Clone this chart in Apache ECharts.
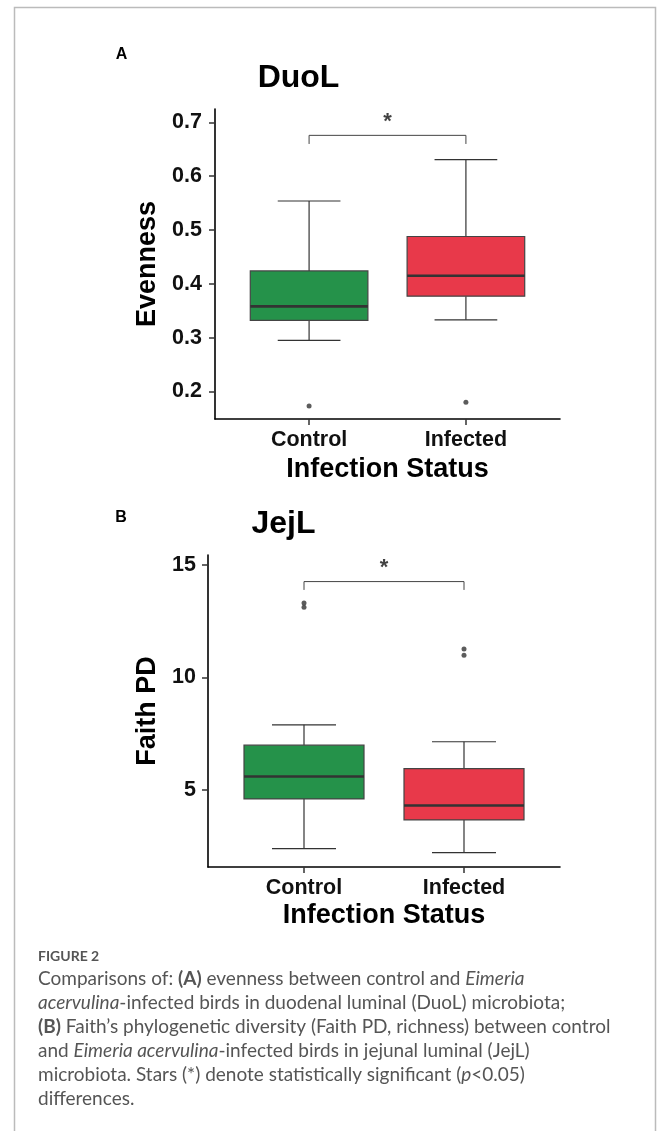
<!DOCTYPE html>
<html>
<head>
<meta charset="utf-8">
<title>Figure 2</title>
<script src="https://cdn.jsdelivr.net/npm/echarts@6/dist/echarts.min.js"></script>
<style>
  html, body { margin: 0; padding: 0; background: #fff; }
  #fig { width: 657px; height: 1131px; }
</style>
</head>
<body>
<div id="fig"></div>
<script>
// categories on the x axis (positions 1 and 2)
const categories = ['Control', 'Infected'];

// panel A, DuoL evenness: [lower whisker, Q1, median, Q3, upper whisker]
const duolBoxes = [
  [0.295, 0.332, 0.358, 0.424, 0.554],
  [0.333, 0.377, 0.415, 0.488, 0.631]
];
const duolOutliers = [[0.173], [0.180]];
const duolTicks = [0.2, 0.3, 0.4, 0.5, 0.6, 0.7];
// significance: [bracket tip, bracket bar, star]
const duolSig = [0.660, 0.676, 0.701];

// panel B, JejL Faith PD
const jejlBoxes = [
  [2.41, 4.61, 5.61, 7.00, 7.90],
  [2.23, 3.68, 4.32, 5.96, 7.15]
];
const jejlOutliers = [[13.12, 13.31], [10.99, 11.27]];
const jejlTicks = [5, 10, 15];
const jejlSig = [13.89, 14.26, 14.87];

const BOX_COLORS = ['#25924A', '#E8394A'];
const BOX_WIDTH = 0.75;
const CAP_WIDTH = 0.4;
const FONT = '"Liberation Sans", Arial, sans-serif';
const CAP_FONT = 'Lato, "Open Sans", sans-serif';

function boxRows(boxes) {
  return boxes.map((b, i) => [i + 1].concat(b));
}
function outlierRows(outs) {
  const rows = [];
  outs.forEach((list, i) => list.forEach(v => rows.push([i + 1, v])));
  return rows;
}
function bracketRows(sig) {
  return [[1, sig[0]], [1, sig[1]], [2, sig[1]], [2, sig[0]]];
}

function renderBox(params, api) {
  const x = api.value(0);
  const pt = k => api.coord([x, api.value(k)]);
  const lo = pt(1), q1 = pt(2), md = pt(3), q3 = pt(4), hi = pt(5);
  const halfBox = api.size([BOX_WIDTH, 0])[0] / 2;
  const halfCap = api.size([CAP_WIDTH, 0])[0] / 2;
  const cx = lo[0];
  const line = (x1, y1, x2, y2, w) => ({
    type: 'line',
    shape: { x1: x1, y1: y1, x2: x2, y2: y2 },
    style: { stroke: '#333', lineWidth: w }
  });
  return {
    type: 'group',
    children: [
      line(cx, hi[1], cx, q3[1], 1.2),
      line(cx, q1[1], cx, lo[1], 1.2),
      line(cx - halfCap, hi[1], cx + halfCap, hi[1], 1.2),
      line(cx - halfCap, lo[1], cx + halfCap, lo[1], 1.2),
      {
        type: 'rect',
        shape: { x: cx - halfBox, y: q3[1], width: 2 * halfBox, height: q1[1] - q3[1] },
        style: { fill: BOX_COLORS[params.dataIndex], stroke: '#444', lineWidth: 1.2 }
      },
      line(cx - halfBox, md[1], cx + halfBox, md[1], 2.6)
    ]
  };
}

function xAxisFor(idx, nameGap) {
  return {
    gridIndex: idx,
    type: 'value',
    min: 0.4,
    max: 2.6,
    name: 'Infection Status',
    nameLocation: 'middle',
    nameGap: nameGap,
    nameTextStyle: { fontFamily: FONT, fontWeight: 'bold', fontSize: 27, color: '#000' },
    axisLine: { lineStyle: { color: '#000', width: 1.6 } },
    axisTick: { customValues: [1, 2], length: 6, lineStyle: { color: '#333', width: 1.5 } },
    axisLabel: {
      customValues: [1, 2],
      formatter: v => categories[Math.round(v) - 1],
      margin: 10,
      fontFamily: FONT, fontWeight: 'bold', fontSize: 21.5, color: '#111'
    },
    splitLine: { show: false }
  };
}

function yAxisFor(idx, name, min, max, ticks, fmt, nameGap, margin) {
  return {
    gridIndex: idx,
    type: 'value',
    min: min,
    max: max,
    name: name,
    nameLocation: 'middle',
    nameRotate: 90,
    nameGap: nameGap,
    nameTextStyle: { fontFamily: FONT, fontWeight: 'bold', fontSize: 27, color: '#000' },
    axisLine: { show: true, lineStyle: { color: '#000', width: 1.6 } },
    axisTick: { show: true, customValues: ticks, length: 6, lineStyle: { color: '#333', width: 1.5 } },
    axisLabel: {
      customValues: ticks,
      formatter: fmt,
      margin: margin,
      fontFamily: FONT, fontWeight: 'bold', fontSize: 21.5, color: '#111'
    },
    splitLine: { show: false }
  };
}

function panelSeries(idx, boxes, outs, sig) {
  return [
    {
      type: 'custom',
      xAxisIndex: idx, yAxisIndex: idx,
      renderItem: renderBox,
      encode: { x: 0, y: [1, 2, 3, 4, 5] },
      data: boxRows(boxes),
      silent: true
    },
    {
      type: 'scatter',
      xAxisIndex: idx, yAxisIndex: idx,
      symbolSize: 5,
      itemStyle: { color: '#333' },
      data: outlierRows(outs),
      silent: true
    },
    {
      type: 'line',
      xAxisIndex: idx, yAxisIndex: idx,
      symbol: 'none',
      lineStyle: { color: '#444', width: 1 },
      data: bracketRows(sig),
      silent: true
    },
    {
      type: 'scatter',
      xAxisIndex: idx, yAxisIndex: idx,
      symbolSize: 1,
      itemStyle: { color: 'rgba(0,0,0,0)' },
      label: {
        show: true, position: 'inside', formatter: '*',
        fontFamily: FONT, fontWeight: 'bold', fontSize: 22, color: '#111'
      },
      data: [[1.5, sig[2]]],
      silent: true
    }
  ];
}

function capText(y, text, size, weight) {
  const base = { fontFamily: CAP_FONT, fontSize: size, fill: '#555', fontWeight: weight || 'normal' };
  return {
    type: 'text',
    left: 38,
    top: y,
    style: Object.assign({
      text: text,
      rich: {
        b: Object.assign({}, base, { fontWeight: 'bold' }),
        i: Object.assign({}, base, { fontStyle: 'italic' })
      }
    }, base)
  };
}

function label(x, y, text, size) {
  return {
    type: 'text',
    x: x, y: y,
    style: {
      text: text, fontFamily: FONT, fontWeight: 'bold', fontSize: size,
      fill: '#000', align: 'center', verticalAlign: 'middle'
    }
  };
}

const captionLines = [
  'Comparisons of: {b|(A)} evenness between control and {i|Eimeria}',
  '{i|acervulina}-infected birds in duodenal luminal (DuoL) microbiota;',
  '{b|(B)} Faith\u2019s phylogenetic diversity (Faith PD, richness) between control',
  'and {i|Eimeria acervulina}-infected birds in jejunal luminal (JejL)',
  'microbiota. Stars (*) denote statistically significant ({i|p}<0.05)',
  'differences.'
];

const chart = echarts.init(document.getElementById('fig'), null, { renderer: 'canvas' });

const option = {
  backgroundColor: '#fff',
  animation: false,
  grid: [
    { left: 215, top: 109, width: 345, height: 310 },
    { left: 208, top: 555, width: 352, height: 312 }
  ],
  xAxis: [xAxisFor(0, 37), xAxisFor(1, 35)],
  yAxis: [
    yAxisFor(0, 'Evenness', 0.1487, 0.725, duolTicks, v => v.toFixed(1), 52, 13),
    yAxisFor(1, 'Faith PD', 1.59, 15.44, jejlTicks, v => String(v), 45, 12)
  ],
  series: panelSeries(0, duolBoxes, duolOutliers, duolSig)
    .concat(panelSeries(1, jejlBoxes, jejlOutliers, jejlSig)),
  graphic: [
    {
      type: 'rect',
      shape: { x: 14.5, y: 7.5, width: 641, height: 1140 },
      style: { fill: 'none', stroke: '#bbb', lineWidth: 1.5 },
      silent: true
    },
    label(121.5, 55, 'A', 16),
    label(298.5, 78, 'DuoL', 32),
    label(121, 517.5, 'B', 16),
    label(283.5, 524, 'JejL', 32),
    capText(949, 'FIGURE 2', 14, 'bold')
  ].concat(captionLines.map((t, i) => capText(969 + i * 24, t, 19)))
};

chart.setOption(option);
</script>
</body>
</html>
